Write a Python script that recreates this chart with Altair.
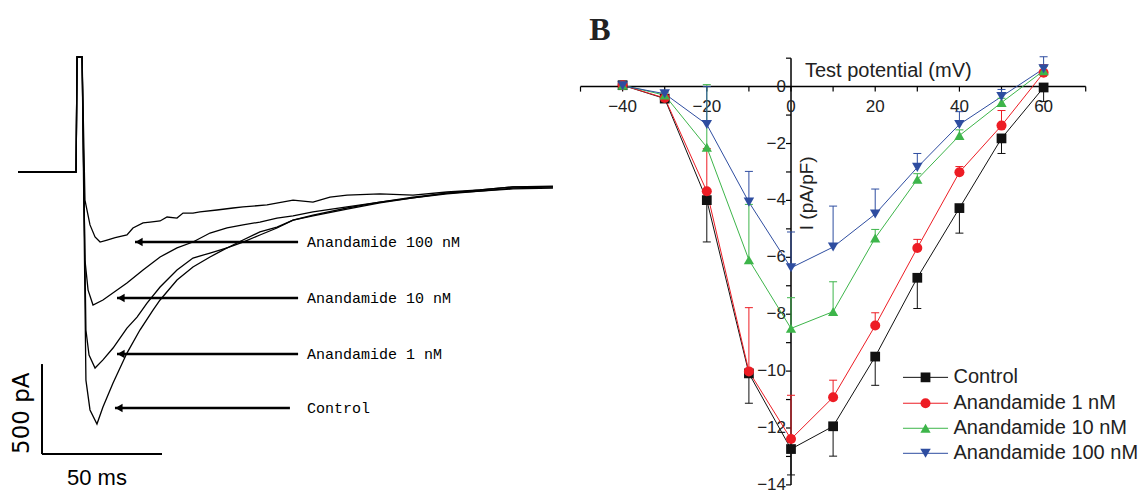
import altair as alt
import pandas as pd

# ---------------- Panel A : current traces (ms, pA) ----------------
trace_names = ["Control", "Anandamide 1 nM", "Anandamide 10 nM", "Anandamide 100 nM"]

ctrl_t = [7.5, 31.7, 32.1, 34.2, 35.8, 37.5, 40.4, 42.9, 47.1, 52.9, 58.3, 63.75, 66.7, 73.75, 80.4,
          87.5, 94.6, 101.25, 108.3, 115.4, 122.1, 130.4, 144.6, 158.3, 172.1, 186.25, 200, 213.75, 230.4]
ctrl_i = [0, 0, 639, 639, -1156, -1322, -1400, -1306, -1172, -1006, -878, -767, -711, -600, -528,
          -472, -422, -389, -350, -311, -267, -244, -206, -172, -144, -122, -106, -94, -89]

a1_t = [7.5, 31.7, 32.1, 34.2, 35.8, 37.1, 39.6, 42.9, 47.1, 52.9, 57.1, 61.25, 66.7, 73.75, 80.4,
        87.5, 94.6, 101.25, 108.3, 115.4, 122.1, 130.4, 144.6, 158.3, 172.1, 186.25, 200, 213.75, 230.4]
a1_i = [0, 0, 639, 639, -878, -1017, -1089, -1044, -978, -867, -806, -728, -639, -544, -478,
        -450, -422, -378, -333, -306, -267, -239, -200, -167, -139, -117, -106, -89, -83]

a10_t = [7.5, 31.7, 32.1, 34.2, 35.4, 36.7, 38.75, 42.9, 52.9, 59.6, 66.7, 73.75, 80.4, 87.5,
         94.6, 101.25, 108.3, 115.4, 122.1, 130.4, 144.6, 158.3, 172.1, 186.25, 200, 213.75, 230.4]
a10_i = [0, 0, 639, 639, -489, -656, -739, -711, -617, -544, -472, -422, -389, -339,
         -311, -294, -278, -256, -244, -222, -194, -167, -144, -117, -100, -83, -78]

a100_t = [7.5, 31.7, 32.1, 34.2, 35.4, 37.5, 39.6, 41.7, 44.6, 48.0, 52.9, 55.4, 59.6, 62.5, 66.7,
          69.6, 73.75, 76.25, 80.4, 83.3, 90.4, 97.1, 101.25, 111.25, 122.1, 130.4, 137.5, 144.6,
          158.3, 172.1, 186.25, 200, 213.75, 230.4]
a100_i = [0, 0, 639, 639, -156, -294, -361, -389, -378, -365, -350, -311, -283, -278, -272,
          -250, -256, -228, -228, -222, -211, -200, -194, -183, -156, -167, -139, -128,
          -122, -128, -111, -100, -83, -83]

arrow_tip_t = [47.9, 48.75, 48.75, 56.25]
arrow_end_t = [120.8, 124.2, 124.2, 124.2]
arrow_i = [-1311, -1011, -700, -389]
arrow_label_t = 127.9

# scale bar: 50 ms x 500 pA
bar_t0 = [17.5, 17.5]
bar_t1 = [17.5, 67.5]
bar_i0 = [-1567, -1567]
bar_i1 = [-1067, -1567]

# ---------------- Panel B : I-V relation ----------------
volts = [-40, -30, -20, -10, 0, 10, 20, 30, 40, 50, 60]
ctrl_mean = [0.05, -0.42, -3.99, -10.08, -12.74, -11.94, -9.49, -6.72, -4.27, -1.82, -0.03]
ctrl_err = [0.05, 0.10, 1.47, 1.05, 0.91, 1.05, 1.01, 1.08, 0.88, 0.53, 0.49]
a1_mean = [0.05, -0.40, -3.68, -10.01, -12.39, -10.92, -8.40, -5.67, -3.01, -1.37, 0.49]
a1_err = [0.05, 0.10, 1.50, 2.24, 1.54, 0.60, 0.45, 0.30, 0.20, 0.53, 0.28]
a10_mean = [0.05, -0.30, -2.13, -6.09, -8.50, -7.91, -5.32, -3.26, -1.72, -0.56, 0.56]
a10_err = [0.05, 0.10, 2.20, 1.95, 1.08, 1.05, 0.30, 0.20, 0.20, 0.15, 0.15]
a100_mean = [0.03, -0.25, -1.33, -4.06, -6.37, -5.64, -4.48, -2.84, -1.33, -0.35, 0.63]
a100_err = [0.05, 0.10, 1.33, 1.08, 1.26, 1.44, 0.88, 0.49, 0.45, 0.25, 0.42]
err_direction = [-1, 1, 1, 1]

series_colors = ["#111111", "#ED1C24", "#3DB54A", "#2E4DA0"]
series_shapes = ["square", "circle", "triangle-up", "triangle-down"]
series_sizes = [95, 110, 150, 150]

x_ticks = [-50, -40, -30, -20, -10, 0, 10, 20, 30, 40, 50, 60, 70]
x_tick_label_vals = [-40, -20, 0, 20, 40, 60]
x_tick_labels = ["−40", "−20", "0", "20", "40", "60"]
y_ticks = list(range(-14, 2))
y_tick_label_vals = [0, -2, -4, -6, -8, -10, -12, -14]
y_tick_labels = ["0", "−2", "−4", "−6", "−8", "−10", "−12", "−14"]
legend_rows = [-10.22, -11.13, -12.01, -12.89]

# ================= build Panel A =================
rows = []
for name, ts, cs in zip(trace_names, [ctrl_t, a1_t, a10_t, a100_t], [ctrl_i, a1_i, a10_i, a100_i]):
    for k, (t, c) in enumerate(zip(ts, cs)):
        rows.append({"trace": name, "t": t, "i": c, "k": k})
traces_df = pd.DataFrame(rows)
arrows_df = pd.DataFrame({"name": trace_names, "tip": arrow_tip_t, "end": arrow_end_t,
                          "i": arrow_i, "lt": [arrow_label_t] * 4})
bar_df = pd.DataFrame({"t0": bar_t0, "t1": bar_t1, "i0": bar_i0, "i1": bar_i1})
atext_df = pd.DataFrame({"t": [9.2, 40.4], "i": [-1340, -1700], "l": ["500 pA", "50 ms"]})

xsL = alt.Scale(domain=[0, 233.33], nice=False, zero=False)
ysL = alt.Scale(domain=[-1777.8, 955.6], nice=False, zero=False)


def XL(f):
    return alt.X(f, type="quantitative", scale=xsL, axis=None)


def YL(f):
    return alt.Y(f, type="quantitative", scale=ysL, axis=None)


traces = alt.Chart(traces_df).mark_line(color="black", strokeWidth=1.3).encode(
    x=XL("t"), y=YL("i"), detail="trace:N", order="k:Q")
shafts = alt.Chart(arrows_df).mark_rule(color="black", strokeWidth=2.4).encode(
    x=XL("tip"), x2="end:Q", y=YL("i"))
heads = alt.Chart(arrows_df).mark_point(shape="triangle-left", filled=True, color="black",
                                        opacity=1, size=70, xOffset=4).encode(x=XL("tip"), y=YL("i"))
labelsA = alt.Chart(arrows_df).mark_text(align="left", baseline="middle", font="Liberation Mono",
                                         fontSize=15, color="black").encode(
    x=XL("lt"), y=YL("i"), text="name:N")
scalebar = alt.Chart(bar_df).mark_rule(color="black", strokeWidth=2).encode(
    x=XL("t0"), x2="t1:Q", y=YL("i0"), y2="i1:Q")
pa_text = alt.Chart(atext_df.iloc[[0]]).mark_text(
    angle=270, font="DejaVu Sans", fontSize=23, baseline="middle", align="center", color="black").encode(
    x=XL("t"), y=YL("i"), text="l:N")
ms_text = alt.Chart(atext_df.iloc[[1]]).mark_text(
    font="Liberation Sans", fontSize=22, baseline="middle", align="center", color="black").encode(
    x=XL("t"), y=YL("i"), text="l:N")

left = alt.layer(traces, shafts, heads, labelsA, scalebar, pa_text, ms_text).properties(width=560, height=492)

# ================= build Panel B =================
rows = []
for s, (name, m, e) in enumerate(zip(trace_names, [ctrl_mean, a1_mean, a10_mean, a100_mean],
                                     [ctrl_err, a1_err, a10_err, a100_err])):
    for v, mm, ee in zip(volts, m, e):
        rows.append({"series": name, "s": s, "v": v, "m": mm, "e2": mm + err_direction[s] * ee})
iv_df = pd.DataFrame(rows)
leg_df = pd.DataFrame({"series": trace_names, "y": legend_rows, "x0": [26.6] * 4, "x1": [37.3] * 4,
                       "xm": [31.95] * 4, "xt": [38.6] * 4})
axes_df = pd.DataFrame({"x0": [-50, 0], "x1": [70, 0], "y0": [0, 1], "y1": [0, -14]})
xt_df = pd.DataFrame({"v": x_ticks, "z": [0] * len(x_ticks)})
yt_df = pd.DataFrame({"v": y_ticks, "z": [0] * len(y_ticks)})
xl_df = pd.DataFrame({"v": x_tick_label_vals, "z": [0] * 6, "l": x_tick_labels})
yl_df = pd.DataFrame({"v": y_tick_label_vals, "z": [0] * 8, "l": y_tick_labels})
ann_df = pd.DataFrame({"x": [3.3], "y": [0.56], "l": ["Test potential (mV)"]})
ylab_df = pd.DataFrame({"x": [3.7], "y": [-3.75], "l": ["I (pA/pF)"]})
b_df = pd.DataFrame({"x": [-45.4], "y": [2.0], "l": ["B"]})

xs = alt.Scale(domain=[-54.87, 83.37], nice=False, zero=False)
ys = alt.Scale(domain=[-14.25, 3.045], nice=False, zero=False)
color = alt.Color("series:N", scale=alt.Scale(domain=trace_names, range=series_colors), legend=None)
shape = alt.Shape("series:N", scale=alt.Scale(domain=trace_names, range=series_shapes), legend=None)
size = alt.Size("series:N", scale=alt.Scale(domain=trace_names, range=series_sizes), legend=None)
FONT = "Liberation Sans"


def X(f):
    return alt.X(f, type="quantitative", scale=xs, axis=None)


def Y(f):
    return alt.Y(f, type="quantitative", scale=ys, axis=None)


axes = alt.Chart(axes_df).mark_rule(color="black", strokeWidth=1.5).encode(
    x=X("x0"), x2="x1:Q", y=Y("y0"), y2="y1:Q")
xt = alt.Chart(xt_df).mark_rule(color="black", strokeWidth=1.2, y2Offset=5).encode(
    x=X("v"), y=Y("z"), y2="z:Q")
yt = alt.Chart(yt_df).mark_rule(color="black", strokeWidth=1.2, x2Offset=-5).encode(
    y=Y("v"), x=X("z"), x2="z:Q")
xl = alt.Chart(xl_df).mark_text(font=FONT, fontSize=17, baseline="top", dy=12, color="#222").encode(
    x=X("v"), y=Y("z"), text="l:N")
yl = alt.Chart(yl_df).mark_text(font=FONT, fontSize=17, baseline="middle", align="right", dx=-5,
                                color="#222").encode(y=Y("v"), x=X("z"), text="l:N")

lines = alt.Chart(iv_df).mark_line(strokeWidth=1).encode(
    x=X("v"), y=Y("m"), color=color, detail="series:N", order="v:Q")
ebars = alt.Chart(iv_df).mark_rule(strokeWidth=1).encode(x=X("v"), y=Y("m"), y2="e2:Q", color=color)
ecaps = alt.Chart(iv_df).mark_rule(strokeWidth=1, xOffset=-4, x2Offset=4).encode(
    x=X("v"), x2="v:Q", y=Y("e2"), color=color)
pts = alt.Chart(iv_df).mark_point(filled=True, opacity=1).encode(
    x=X("v"), y=Y("m"), color=color, shape=shape, size=size, order="s:Q")

leg_lines = alt.Chart(leg_df).mark_rule(strokeWidth=1).encode(x=X("x0"), x2="x1:Q", y=Y("y"), color=color)
leg_pts = alt.Chart(leg_df).mark_point(filled=True, opacity=1).encode(
    x=X("xm"), y=Y("y"), color=color, shape=shape, size=size)
leg_txt = alt.Chart(leg_df).mark_text(font=FONT, fontSize=20, align="left", baseline="middle",
                                      color="#222").encode(x=X("xt"), y=Y("y"), text="series:N")

title_b = alt.Chart(b_df).mark_text(font="Liberation Serif", fontWeight="bold", fontSize=32,
                                    align="center", baseline="middle", color="#222").encode(
    x=X("x"), y=Y("y"), text="l:N")
xtitle = alt.Chart(ann_df).mark_text(font=FONT, fontSize=20, align="left", baseline="middle",
                                     color="#222").encode(x=X("x"), y=Y("y"), text="l:N")
ytitle = alt.Chart(ylab_df).mark_text(font=FONT, fontSize=19, angle=270, align="center",
                                      baseline="middle", color="#222").encode(x=X("x"), y=Y("y"), text="l:N")

right = alt.layer(axes, xt, yt, xl, yl, lines, ebars, ecaps, pts,
                  leg_lines, leg_pts, leg_txt, title_b, xtitle, ytitle).properties(width=582, height=492)

chart = alt.hconcat(left, right, spacing=0, bounds="flush").properties(
    padding=0, background="white").configure_view(stroke=None)

chart.save("out.html", embed_options={"renderer": "svg", "actions": False})
